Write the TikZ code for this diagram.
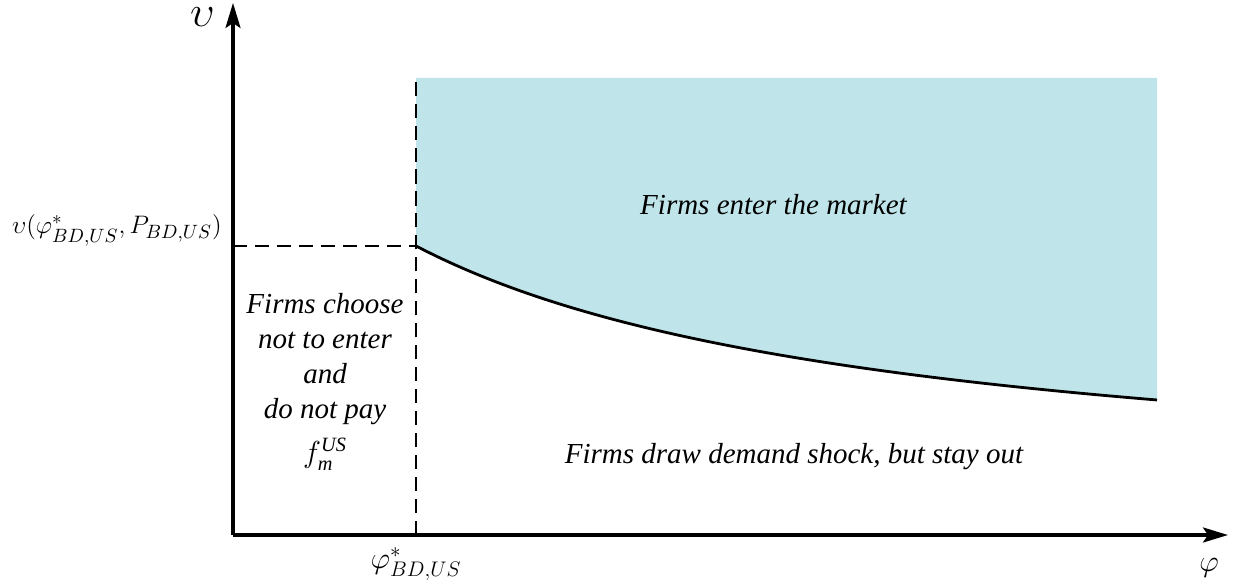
\documentclass[tikz,border=0pt]{standalone}
\usepackage{amsmath}
\usepackage{fontspec}
\setmainfont{Liberation Serif}
\usetikzlibrary{arrows.meta}
\definecolor{entryblue}{RGB}{191,229,235}
\newcommand{\bigfont}{\fontsize{16.5}{20}\selectfont}
\tikzset{
  axis/.style={line width=1.8pt,-{Stealth[length=0.5cm,width=0.3cm,inset=0.1cm]}},
  guide/.style={line width=1.4pt,dash pattern=on 8pt off 4.5pt},
  region/.style={font=\bigfont\itshape,align=center,inner sep=0pt},
  axislabel/.style={font=\bigfont,inner sep=0pt}
}

\begin{document}
\begin{tikzpicture}
            \useasboundingbox (0,0) rectangle (24.74,11.66);
            \coordinate (O) at (4.66,0.96);
            \coordinate (xend) at (24.56,0.96);
            \coordinate (yend) at (4.66,11.6);
            \coordinate (kink) at (8.32,6.74);
            \coordinate (top) at (8.32,10.1);
            
            \fill[entryblue] (top) -- (23.14,10.1) -- plot[domain=23.14:8.32,samples=80] (\x,{1.622+50.2/(\x+1.488)}) -- cycle;
            
            \draw[guide] (kink -| O) -- (kink);
            \draw[guide] (kink |- O) -- (top);
            \draw[line width=1.6pt] plot[domain=8.32:23.14,samples=80] (\x,{1.622+50.2/(\x+1.488)});
            
            \draw[axis] (O) -- (xend);
            \draw[axis] (O) -- (yend);
            
            \node[anchor=base,inner sep=0pt] (vaxis) at (4.05,11.12) {\fontsize{24}{24}\selectfont$\upsilon$};
            \node[axislabel,anchor=base] (phiaxis) at (24.18,0.24) {$\varphi$};
            \node[axislabel,anchor=base east,font=\fontsize{15.2}{18}\selectfont] (vstar) at (4.44,6.98) {$\upsilon(\varphi^*_{BD,US},P_{BD,US})$};
            \node[axislabel,anchor=north] (phistar) at (8.32,0.72) {$\varphi^*_{BD,US}$};
            
            \node[region,anchor=base] (enter) at (15.47,7.36) {Firms enter the market};
            \node[region,anchor=base] (out) at (15.88,2.4) {Firms draw demand shock, but stay out};
            \node[region,anchor=north] (noenter) at (6.5,5.8) {Firms choose\\not to enter\\and\\do not pay\\[5pt]$f_{\textit{m}}^{\textit{US}}$};
\end{tikzpicture}
\end{document}
